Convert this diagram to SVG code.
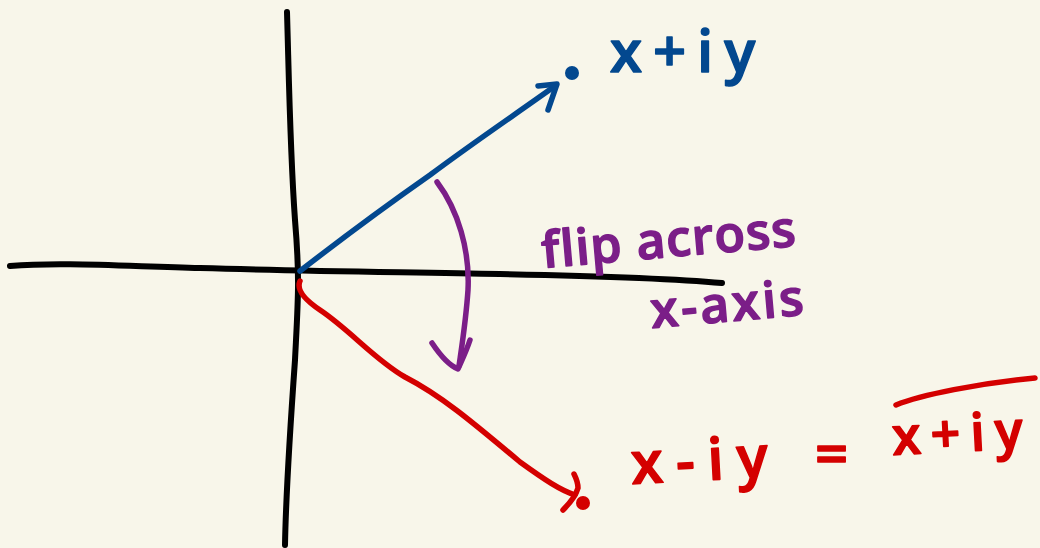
<svg xmlns="http://www.w3.org/2000/svg" width="1040" height="548" viewBox="0 0 1040 548">
<style>
.ink{fill:none;stroke-linecap:round;stroke-linejoin:round}
.axis{stroke:#000;stroke-width:6}
.blue{stroke:#03488F;stroke-width:5.5}
.purple{stroke:#7B1E88;stroke-width:5.5}
.red{stroke:#D40000;stroke-width:5.5}
.t{font-family:"Open Sans","DejaVu Sans",sans-serif;font-weight:600;stroke-width:1.5;stroke-linejoin:round}
</style>
<rect width="1040" height="548" fill="#F8F6EA"/>
<g id="axes">
<path class="ink axis" d="M287 12 C289 80 290 150 295 220 C300 280 298 300 295 360 C290 430 286 490 285 545"/>
<path class="ink axis" d="M10 266 C60 262 120 266 200 268 C300 271 400 272 500 274 C600 276 680 279 722 283"/>
</g>
<g id="connectors">
<path class="ink blue" d="M300 271 C340 240 380 210 430 175 C470 145 510 118 555 86"/>
<path class="ink blue" d="M538 86 L557 84 L548 110"/>
<path class="ink purple" d="M437 182 C458 210 470 250 468 290 C466 320 462 345 459 366"/>
<path class="ink purple" d="M432 343 C440 355 448 365 458 369 C462 360 466 352 470 340"/>
<path class="ink red" d="M300 281 C296 290 305 300 320 310 C350 330 375 360 405 377 C440 395 470 420 520 462 C545 480 560 490 575 495"/>
<path class="ink red" d="M563 510 C570 503 576 495 578 488 C578 482 576 478 574 474"/>
</g>
<g id="point-z">
<circle cx="572" cy="73" r="7" fill="#03488F"/>
<text class="t" x="610" y="72" font-size="58" fill="#03488F" stroke="#03488F" letter-spacing="11">x+iy</text>
</g>
<g id="label-flip">
<text class="t" x="543" y="268" font-size="50" fill="#7B1E88" stroke="#7B1E88" transform="rotate(-5 543 268)" letter-spacing="1">flip across</text>
<text class="t" x="652" y="328" font-size="50" fill="#7B1E88" stroke="#7B1E88" transform="rotate(-5 652 328)" letter-spacing="3">x-axis</text>
</g>
<g id="point-conj">
<circle cx="583" cy="503" r="7" fill="#D40000"/>
<text class="t" x="632" y="484" font-size="58" fill="#D40000" stroke="#D40000" letter-spacing="13" transform="rotate(-3 632 484)">x-iy</text>
<text class="t" x="815" y="474" font-size="58" fill="#D40000" stroke="#D40000">=</text>
<text class="t" x="893" y="455" font-size="52" fill="#D40000" stroke="#D40000" letter-spacing="10" transform="rotate(-3 893 455)">x+iy</text>
<path class="ink red" d="M896 405 C920 395 980 383 1035 378"/>
</g>
</svg>
